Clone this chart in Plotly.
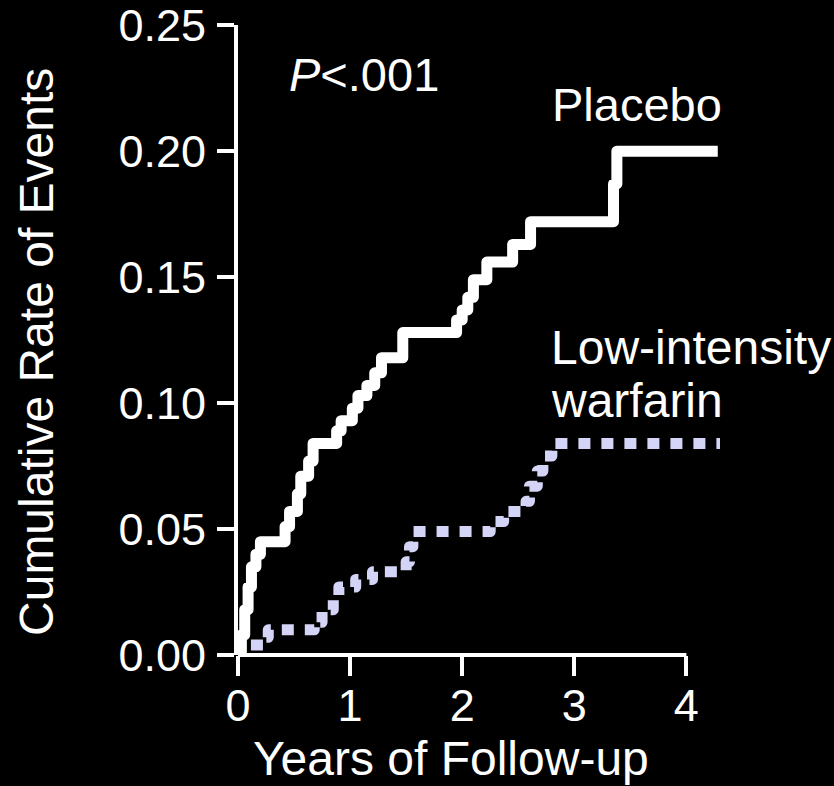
import plotly.graph_objects as go

# Kaplan-Meier style cumulative event rates (years of follow-up, cumulative rate)
placebo_years = [0.0, 0.03, 0.06, 0.09, 0.12, 0.16, 0.20, 0.42, 0.46, 0.53, 0.56, 0.63, 0.67,
                 0.88, 0.92, 1.02, 1.07, 1.15, 1.22, 1.28, 1.47, 1.95, 2.00, 2.05, 2.10,
                 2.22, 2.45, 2.61, 3.35, 3.38, 4.28]
placebo_rate = [0.000, 0.008, 0.018, 0.027, 0.035, 0.040, 0.045, 0.051, 0.057, 0.064, 0.071,
                0.077, 0.084, 0.089, 0.093, 0.098, 0.103, 0.107, 0.112, 0.118, 0.128, 0.133,
                0.137, 0.142, 0.149, 0.156, 0.163, 0.172, 0.187, 0.200, 0.200]

warfarin_years = [0.0, 0.02, 0.23, 0.27, 0.68, 0.75, 0.85, 0.90, 1.05, 1.20, 1.50, 1.53, 1.56,
                  2.25, 2.37, 2.57, 2.60, 2.67, 2.72, 2.80, 4.30]
warfarin_rate = [0.000, 0.004, 0.007, 0.010, 0.013, 0.018, 0.023, 0.027, 0.030, 0.033, 0.037,
                 0.043, 0.049, 0.053, 0.057, 0.061, 0.067, 0.073, 0.079, 0.084, 0.084]

x_ticks = [0, 1, 2, 3, 4]
y_ticks = [0.00, 0.05, 0.10, 0.15, 0.20, 0.25]
y_tick_text = ["0.00", "0.05", "0.10", "0.15", "0.20", "0.25"]

FONT = "Arial, Liberation Sans, sans-serif"
WHITE = "#ffffff"
LAVENDER = "#d4d4f7"

fig = go.Figure()

fig.add_trace(go.Scatter(
    x=warfarin_years, y=warfarin_rate, mode="lines", line_shape="hv",
    line=dict(color=LAVENDER, width=11, dash="12px,11px"),
    name="Low-intensity warfarin", showlegend=False, hoverinfo="skip",
))
fig.add_trace(go.Scatter(
    x=placebo_years, y=placebo_rate, mode="lines", line_shape="hv",
    line=dict(color=WHITE, width=11),
    name="Placebo", showlegend=False, hoverinfo="skip",
))

# x axis baseline only runs from 0 to 4 years
fig.add_shape(type="line", xref="x", yref="paper", x0=0, x1=4, y0=0, y1=0,
              line=dict(color=WHITE, width=4), layer="below")

ann_font = dict(family=FONT, size=47, color=WHITE)
fig.add_annotation(x=0.44, y=0.2304, xref="x", yref="y", xanchor="left", yanchor="middle",
                   text="<i>P</i>&lt;.001", showarrow=False, font=ann_font)
fig.add_annotation(x=2.78, y=0.2185, xref="x", yref="y", xanchor="left", yanchor="middle",
                   text="Placebo", showarrow=False, font=ann_font)
fig.add_annotation(x=2.77, y=0.1220, xref="x", yref="y", xanchor="left", yanchor="middle",
                   text="Low-intensity", showarrow=False, font=dict(family=FONT, size=48, color=WHITE))
fig.add_annotation(x=2.77, y=0.1010, xref="x", yref="y", xanchor="left", yanchor="middle",
                   text="warfarin", showarrow=False, font=dict(family=FONT, size=48, color=WHITE))

# axis titles
fig.add_annotation(x=-0.417, y=0.481, xref="paper", yref="paper", xanchor="center",
                   yanchor="middle", textangle=-90, text="Cumulative Rate of Events",
                   showarrow=False, font=dict(family=FONT, size=48, color=WHITE))
fig.add_annotation(x=1.90, y=-0.165, xref="x", yref="paper", xanchor="center",
                   yanchor="middle", text="Years of Follow-up", showarrow=False,
                   font=dict(family=FONT, size=48, color=WHITE))

fig.update_layout(
    width=834, height=786,
    margin=dict(l=238, r=114, t=25, b=131, pad=0),
    paper_bgcolor="black", plot_bgcolor="black",
    font=dict(family=FONT, color=WHITE),
    xaxis=dict(
        range=[0, 4.3], tickvals=x_ticks, ticktext=[str(v) for v in x_ticks],
        showgrid=False, zeroline=False, showline=False,
        ticks="outside", ticklen=20, tickwidth=4, tickcolor=WHITE,
        tickfont=dict(family=FONT, size=45, color=WHITE),
        ticklabelstandoff=-9,
        automargin=False,
    ),
    yaxis=dict(
        range=[0, 0.2501], tickvals=y_ticks, ticktext=y_tick_text,
        showgrid=False, zeroline=False, showline=True, linewidth=4, linecolor=WHITE,
        ticks="outside", ticklen=17, tickwidth=4, tickcolor=WHITE,
        tickfont=dict(family=FONT, size=45, color=WHITE),
        ticklabelstandoff=2,
        automargin=False,
    ),
)

round_joins = (
    "document.querySelectorAll('.scatterlayer path.js-line').forEach(function(p){"
    "p.style.strokeLinejoin='round';});"
)
fig.write_html("out.html", post_script=round_joins)
